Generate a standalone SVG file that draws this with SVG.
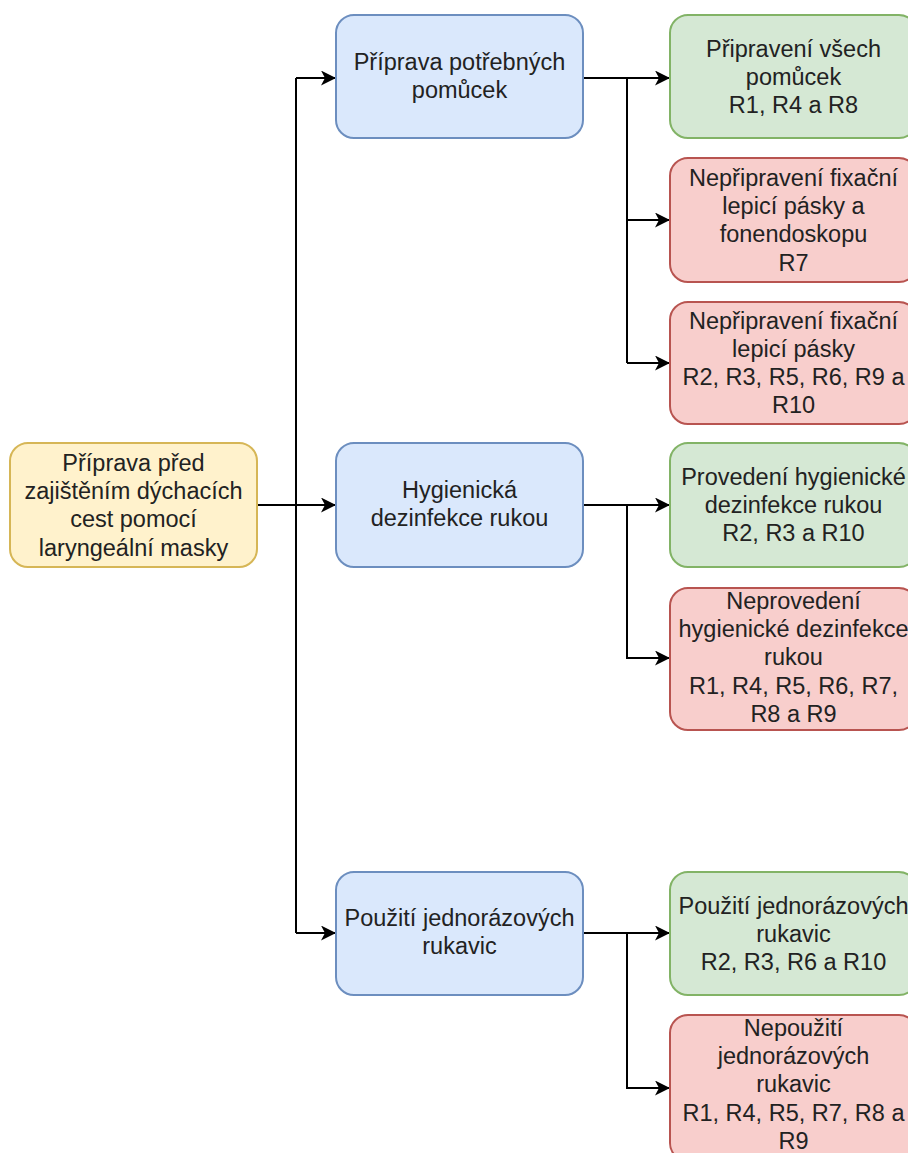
<svg xmlns="http://www.w3.org/2000/svg" width="908" height="1153" viewBox="0 0 908 1153">
<style>
  .box { stroke-width: 2; }
  .yellow { fill: #fff2cc; stroke: #d6b656; }
  .blue { fill: #dae8fc; stroke: #6c8ebf; }
  .green { fill: #d5e8d4; stroke: #82b366; }
  .red { fill: #f8cecc; stroke: #b85450; }
  text { font-family: "Liberation Sans", Arial, sans-serif; font-size: 23.5px; fill: #222; text-anchor: middle; }
  .conn { fill: none; stroke: #000; stroke-width: 2; }
</style>
<defs>
  <marker id="arrow" markerUnits="userSpaceOnUse" markerWidth="16" markerHeight="16" refX="15" refY="7.5" orient="auto" viewBox="0 0 16 16">
    <path d="M0,0 L15,7.5 L0,15 L4,7.5 Z" fill="#000"/>
  </marker>
</defs>
<rect width="908" height="1153" fill="#fff"/>

<g id="connectors">
  <path class="conn" d="M257,505 H296"/>
  <path class="conn" d="M296,78 V933"/>
  <path class="conn" d="M296,78 H336" marker-end="url(#arrow)"/>
  <path class="conn" d="M296,505 H336" marker-end="url(#arrow)"/>
  <path class="conn" d="M296,933 H336" marker-end="url(#arrow)"/>

  <path class="conn" d="M583,78 H670" marker-end="url(#arrow)"/>
  <path class="conn" d="M627,78 V363"/>
  <path class="conn" d="M627,220 H670" marker-end="url(#arrow)"/>
  <path class="conn" d="M627,363 H670" marker-end="url(#arrow)"/>

  <path class="conn" d="M583,505 H670" marker-end="url(#arrow)"/>
  <path class="conn" d="M627,505 V658 H670" marker-end="url(#arrow)"/>

  <path class="conn" d="M583,933 H670" marker-end="url(#arrow)"/>
  <path class="conn" d="M627,933 V1088 H670" marker-end="url(#arrow)"/>
</g>

<g id="root">
  <rect class="box yellow" x="10" y="443" width="247" height="124" rx="18"/>
  <text x="133.5" y="471">Příprava před</text>
  <text x="133.5" y="499.2">zajištěním dýchacích</text>
  <text x="133.5" y="527.4">cest pomocí</text>
  <text x="133.5" y="555.6">laryngeální masky</text>
</g>

<g id="n-pomucky">
  <rect class="box blue" x="336" y="15" width="247" height="123" rx="18"/>
  <text x="459.5" y="69.5">Příprava potřebných</text>
  <text x="459.5" y="97.7">pomůcek</text>
</g>

<g id="n-dezinfekce">
  <rect class="box blue" x="336" y="443" width="247" height="124" rx="18"/>
  <text x="459.5" y="497.5">Hygienická</text>
  <text x="459.5" y="525.7">dezinfekce rukou</text>
</g>

<g id="n-rukavice">
  <rect class="box blue" x="336" y="872" width="247" height="123" rx="18"/>
  <text x="459.5" y="926">Použití jednorázových</text>
  <text x="459.5" y="954.2">rukavic</text>
</g>

<g id="r-pomucky-ok">
  <rect class="box green" x="670" y="15" width="247" height="123" rx="18"/>
  <text x="793.5" y="56.7">Připravení všech</text>
  <text x="793.5" y="84.9">pomůcek</text>
  <text x="793.5" y="113.1">R1, R4 a R8</text>
</g>

<g id="r-pomucky-r7">
  <rect class="box red" x="670" y="158" width="247" height="124" rx="18"/>
  <text x="793.5" y="186">Nepřipravení fixační</text>
  <text x="793.5" y="214.2">lepicí pásky a</text>
  <text x="793.5" y="242.4">fonendoskopu</text>
  <text x="793.5" y="270.6">R7</text>
</g>

<g id="r-pomucky-paska">
  <rect class="box red" x="670" y="302" width="247" height="122" rx="18"/>
  <text x="793.5" y="328.5">Nepřipravení fixační</text>
  <text x="793.5" y="356.7">lepicí pásky</text>
  <text x="793.5" y="384.9">R2, R3, R5, R6, R9 a</text>
  <text x="793.5" y="413.1">R10</text>
</g>

<g id="r-dezinfekce-ok">
  <rect class="box green" x="670" y="443" width="247" height="124" rx="18"/>
  <text x="793.5" y="485">Provedení hygienické</text>
  <text x="793.5" y="513.2">dezinfekce rukou</text>
  <text x="793.5" y="541.4">R2, R3 a R10</text>
</g>

<g id="r-dezinfekce-ne">
  <rect class="box red" x="670" y="588" width="247" height="142" rx="18"/>
  <text x="793.5" y="609">Neprovedení</text>
  <text x="793.5" y="637.2">hygienické dezinfekce</text>
  <text x="793.5" y="665.4">rukou</text>
  <text x="793.5" y="693.6">R1, R4, R5, R6, R7,</text>
  <text x="793.5" y="721.8">R8 a R9</text>
</g>

<g id="r-rukavice-ok">
  <rect class="box green" x="670" y="872" width="247" height="123" rx="18"/>
  <text x="793.5" y="913.5">Použití jednorázových</text>
  <text x="793.5" y="941.7">rukavic</text>
  <text x="793.5" y="969.9">R2, R3, R6 a R10</text>
</g>

<g id="r-rukavice-ne">
  <rect class="box red" x="670" y="1015" width="247" height="146" rx="18"/>
  <text x="793.5" y="1036">Nepoužití</text>
  <text x="793.5" y="1064.2">jednorázových</text>
  <text x="793.5" y="1092.4">rukavic</text>
  <text x="793.5" y="1120.6">R1, R4, R5, R7, R8 a</text>
  <text x="793.5" y="1148.8">R9</text>
</g>
</svg>
